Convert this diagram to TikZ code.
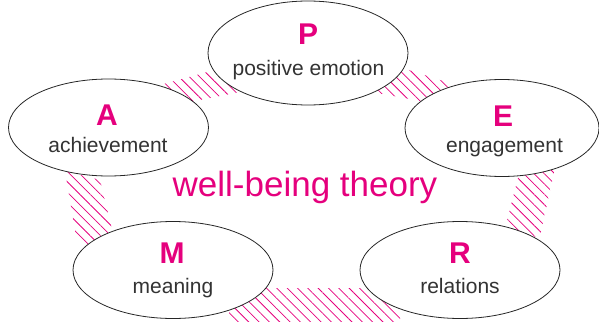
\documentclass[tikz,border=0pt]{standalone}
\usepackage{fontspec}
\setmainfont{Liberation Sans}
\usetikzlibrary{shapes.geometric,patterns.meta}
\definecolor{wbpink}{HTML}{E5007D}
\definecolor{wbgray}{HTML}{333333}
\begin{document}
\begin{tikzpicture}[x=1pt,y=-1pt,
  petal/.style={ellipse, draw=black!85, line width=0.8pt, fill=white, minimum width=200pt, minimum height=97pt, inner sep=0pt},
  bigletter/.style={anchor=base, text=wbpink, font=\fontsize{30}{30}\selectfont\bfseries},
  subtext/.style={anchor=base, text=wbgray, font=\fontsize{21}{21}\selectfont},
  hatch/.style={pattern={Lines[angle=-45,distance=7.3pt,line width=0.75pt]}, pattern color=wbpink}]
\useasboundingbox (0,0) rectangle (599,321);
% hatched bands
\fill[hatch] (160,85) -- (250,60.25) -- (250,90) -- (160,108) -- cycle;
\fill[hatch] (372,58) -- (480,93) -- (480,112) -- (372,92) -- cycle;
\fill[hatch] (65,171) -- (100,180) -- (117,250) -- (77,242) -- cycle;
\fill[hatch] (520,170) -- (555,168) -- (540,236) -- (502,240) -- cycle;
\fill[hatch] (229,288) -- (400,288) -- (400,321) -- (229,321) -- cycle;
% ellipses
\node[petal, minimum height=104pt] (P) at (308,53) {};
\node[petal] (A) at (108.5,127.5) {};
\node[petal, minimum width=194pt] (E) at (502,128) {};
\node[petal] (M) at (173,270) {};
\node[petal] (R) at (460,270) {};
% texts
\node[bigletter] (Pl) at (308,45) {P};
\node[subtext] (Pt) at (308.5,75) {positive emotion};
\node[bigletter] (Al) at (107,125) {A};
\node[subtext] (At) at (108,152) {achievement};
\node[bigletter] (El) at (503,126) {E};
\node[subtext] (Et) at (504.5,152) {engagement};
\node[bigletter] (Ml) at (172,263) {M};
\node[subtext] (Mt) at (173,293) {meaning};
\node[bigletter] (Rl) at (460,263) {R};
\node[subtext] (Rt) at (460,293) {relations};
\node[anchor=base, text=wbpink, font=\fontsize{35}{35}\selectfont] (title) at (305,196) {well-being theory};
\end{tikzpicture}
\end{document}
